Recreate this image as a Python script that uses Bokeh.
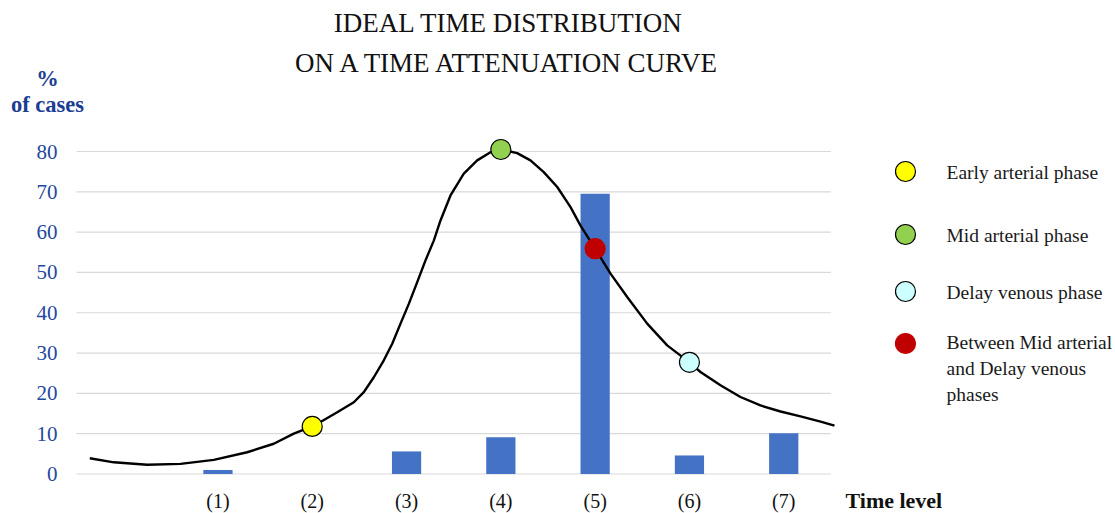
from bokeh.plotting import figure
from bokeh.models import Range1d
from bokeh.embed import file_html
from bokeh.resources import INLINE
from bokeh.core.properties import value

# ---------------- data ----------------
categories = ["(1)", "(2)", "(3)", "(4)", "(5)", "(6)", "(7)"]
case_pct = [1.0, 0.0, 5.6, 9.1, 69.5, 4.6, 10.1]

# attenuation curve: (time level, value)
curve_x = [-0.359, -0.104, 0.250, 0.603, 0.956, 1.310, 1.592, 1.804, 2.0, 2.087,
           2.265, 2.441, 2.547, 2.653, 2.759, 2.848, 2.936, 3.024, 3.113, 3.201,
           3.289, 3.360, 3.466, 3.607, 3.749, 3.890, 4.0, 4.173, 4.314, 4.455,
           4.598, 4.739, 4.845, 5.0, 5.163, 5.340, 5.552, 5.764, 6.0, 6.117,
           6.329, 6.541, 6.753, 6.966, 7.178, 7.390, 7.538]
curve_y = [3.9, 2.9, 2.3, 2.5, 3.5, 5.4, 7.5, 10.0, 11.8, 12.9,
           15.3, 17.8, 20.3, 24.0, 28.2, 32.3, 37.3, 42.2, 47.6, 53.0,
           57.9, 62.9, 69.1, 74.5, 77.8, 79.8, 80.5, 79.6, 77.8, 74.9,
           71.2, 66.2, 61.6, 55.9, 49.7, 43.9, 37.3, 31.9, 27.7, 25.3,
           22.0, 19.1, 17.0, 15.5, 14.3, 13.0, 12.0]

phase_names = ["Early arterial phase", "Mid arterial phase", "Delay venous phase",
               "Between Mid arterial\nand Delay venous\nphases"]
phase_level = [2, 4, 6, 5]
phase_value = [11.8, 80.5, 27.7, 55.9]
phase_colors = ["#FFFF00", "#92D050", "#CCFFFF", "#C00000"]
phase_lines = ["#000000", "#000000", "#000000", "#C00000"]

y_ticks = [0, 10, 20, 30, 40, 50, 60, 70, 80]
y_tick_labels = [str(t) for t in y_ticks]
title_lines = ["IDEAL TIME DISTRIBUTION", "ON A TIME ATTENUATION CURVE"]
y_title = ["%", "of cases"]
x_title = "Time level"

# ---------------- layout geometry (pixels) ----------------
W, H = 1115, 513
PX0, STEP = 76.0, 94.3      # pixel of x = -0.5, pixels per time level
PY0, UNIT = 473.5, 4.031    # pixel of y = 0, pixels per percent


def X(px):
    return -0.5 + (px - PX0) / STEP


def Y(py):
    return (PY0 - py) / UNIT


SERIF = value("Liberation Serif")
BLUE = "#2348A0"
BLUE_DARK = "#1B3D92"
INK = "#111111"

p = figure(width=W, height=H, x_range=Range1d(X(0), X(W)), y_range=Range1d(Y(H), Y(0)),
           output_backend="svg", toolbar_location=None, min_border=0,
           x_axis_location=None, y_axis_location=None)
p.min_border_left = p.min_border_right = p.min_border_top = p.min_border_bottom = 0
p.outline_line_color = None
p.grid.visible = False
p.background_fill_color = "white"
p.border_fill_color = "white"

positions = list(range(1, len(categories) + 1))
x_lo, x_hi = -0.5, len(categories) + 0.5

# horizontal grid lines at the value ticks
p.segment(x0=[x_lo] * len(y_ticks), x1=[x_hi] * len(y_ticks), y0=y_ticks, y1=y_ticks,
          line_color="#D9D9D9", line_width=1.2)

# value tick labels
p.text([X(57)] * len(y_ticks), y_ticks, text=y_tick_labels, text_align="right",
       text_baseline="middle", text_font=SERIF, text_font_size="21px", text_color=BLUE)

# category labels
p.text(positions, [Y(500)] * len(positions), text=categories, text_align="center",
       text_baseline="middle", text_font=SERIF, text_font_size="20px", text_color=INK)

# bars, curve, phase markers
p.vbar(x=positions, top=case_pct, width=0.31, fill_color="#4472C4", line_color=None)
p.line(curve_x, curve_y, line_color="black", line_width=2.4, line_join="round")
p.scatter(phase_level, phase_value, size=20, fill_color=phase_colors,
          line_color=phase_lines, line_width=1.2)

# titles
p.text([X(508)] * 2, [Y(22), Y(62)], text=title_lines, text_align="center",
       text_baseline="middle", text_font=SERIF, text_font_size="27px", text_color=INK)
p.text([X(47)] * 2, [Y(78), Y(104)], text=y_title, text_align="center",
       text_baseline="middle", text_font=SERIF, text_font_size="22.5px",
       text_font_style="bold", text_color=BLUE_DARK)
p.text([X(845)], [Y(500)], text=[x_title], text_align="left", text_baseline="middle",
       text_font=SERIF, text_font_size="22px", text_font_style="bold", text_color=INK)

# legend
leg_py = [171, 234, 291, 343]
p.scatter([X(905)] * 4, [Y(v) for v in leg_py], size=20, fill_color=phase_colors,
          line_color=phase_lines, line_width=1.2)
p.text([X(946)] * 3, [Y(172), Y(235), Y(292)], text=phase_names[:3], text_align="left",
       text_baseline="middle", text_font=SERIF, text_font_size="19.5px", text_color="#1a1a1a")
p.text([X(946)], [Y(368)], text=[phase_names[3]], text_align="left", text_baseline="middle",
       text_font=SERIF, text_font_size="19.5px", text_color="#1a1a1a", text_line_height=1.23)

open("out.html", "w").write(file_html(p, INLINE))
